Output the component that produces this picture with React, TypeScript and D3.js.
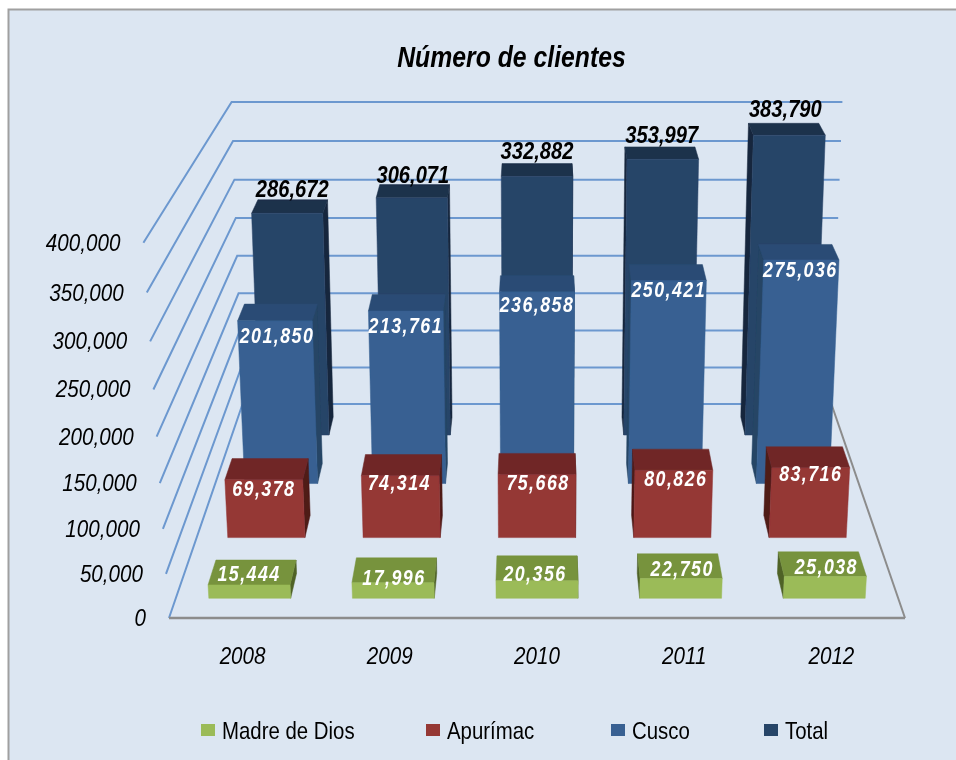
// Número de clientes: 3D clustered columns, drawn with a small perspective projection
import * as d3 from 'd3';
import React, { useEffect, useRef } from 'react';

const years = ['2008', '2009', '2010', '2011', '2012'];
const series = ['Madre de Dios', 'Apurímac', 'Cusco', 'Total'];
const madreDeDios = [15444, 17996, 20356, 22750, 25038];
const apurimac = [69378, 74314, 75668, 80826, 83716];
const cusco = [201850, 213761, 236858, 250421, 275036];
const total = [286672, 306071, 332882, 353997, 383790];
const valueTicks = [0, 50000, 100000, 150000, 200000, 250000, 300000, 350000, 400000];

const rows = [madreDeDios, apurimac, cusco, total];
const frontColor = ['#9bbb59', '#953735', '#376092', '#284468'];
const topColor = ['#77933c', '#702828', '#2b4c74', '#1d304b'];
const sideColor = ['#4f6228', '#4f1a19', '#254465', '#16263d'];
const labelColor = ['#fff', '#fff', '#fff', '#000'];
const labelDy = [-12, 8, 16, -24];
// hand nudges for the data labels, the original placed them a bit unevenly
const nudgeX = [[0, 1, -2, 1, 1], [0, -1, 1, 2, 0], [2, 0, 0, 0, -1], [5, 1, 0, -1, -4]];
const nudgeY = [[0, 7, 5, 2, 2], [0, -1, 0, 0, -2], [-2, -2, -4, -7, -7], [0, 1, -1, 0, -2]];

const FONT = '"Liberation Sans", Arial, sans-serif';

export default function App() {
  const ref = useRef<SVGSVGElement>(null);

  useEffect(() => {
    const root = d3.select(ref.current);
    root.selectAll('*').remove();

    // the source is a slightly soft bitmap
    root.append('defs').append('filter').attr('id', 'soft')
      .attr('x', 0).attr('y', 0).attr('width', 1).attr('height', 1)
      .append('feGaussianBlur').attr('stdDeviation', 0.45);
    const svg = root.append('g').attr('filter', 'url(#soft)');

    const yNorm = d3.scaleLinear().domain([0, 400000]).range([0, 1]);
    const xBand = d3.scaleBand().domain(years).range([0.003, 0.997]).paddingInner(0.43).paddingOuter(0.215);
    const zBand = d3.scaleBand().domain(series).range([0, 1]).paddingInner(0.6).paddingOuter(0.3);
    const xCenter = d3.scalePoint().domain(years).range([0.1, 0.9]);

    // x across, y up, z into the picture, all 0..1
    const project = (x: number, y: number, z: number): [number, number] => {
      const w = 1 + 0.25 * z - 0.065 * y + 0.02 * y * z;
      return [537 + ((x - 0.5) * 736) / w, (618 - 391 * y - 113 * z + 9 * y * z) / w];
    };
    const line = d3.line();

    svg.append('rect').attr('x', 0).attr('y', 0).attr('width', 956).attr('height', 760).attr('fill', '#fff');
    svg.append('rect').attr('x', 8.5).attr('y', 9.5).attr('width', 1000).attr('height', 800)
      .attr('fill', '#dce6f2').attr('stroke', '#a0a0a0').attr('stroke-width', 2);

    const label = (x: number, y: number, text: string, size: number, sx: number, anchor: string, weight: string, style: string, fill: string, spacing = 0) =>
      svg.append('text')
        .attr('transform', `translate(${x},${y}) scale(${sx},1)`)
        .attr('text-anchor', anchor).attr('dominant-baseline', 'central')
        .attr('font-family', FONT).attr('font-size', size)
        .attr('font-weight', weight).attr('font-style', style)
        .attr('letter-spacing', spacing)
        .attr('fill', fill).text(text);

    // title
    label(511.5, 57, 'Número de clientes', 29, 0.855, 'middle', 'bold', 'italic', '#000');

    // floor edge on the right
    svg.append('path').attr('d', line([project(1, 0, 0), project(1, 0, 1)]))
      .attr('stroke', '#8c8c8c').attr('stroke-width', 2).attr('fill', 'none');

    // wall grid
    valueTicks.forEach(t => {
      const y = yNorm(t);
      svg.append('path')
        .attr('d', line([project(0, y, 0), project(0, y, 1), project(1, y, 1)]))
        .attr('fill', 'none').attr('stroke', '#6c98cf').attr('stroke-width', 2);
      const [fx, fy] = project(0, y, 0);
      label(fx - 23, fy, d3.format(',')(t), 24, 0.86, 'end', 'normal', 'italic', '#000');
    });

    svg.append('path').attr('d', line([project(0, 0, 0), project(1, 0, 0)]))
      .attr('stroke', '#8c8c8c').attr('stroke-width', 2.5).attr('fill', 'none');

    // columns, back row first
    const quad = (pts: [number, number][], fill: string) =>
      svg.append('path').attr('d', line(pts) + 'Z').attr('fill', fill).attr('stroke', fill).attr('stroke-width', 0.5);

    const texts: (() => void)[] = [];
    d3.range(rows.length - 1, -1, -1).forEach(r => {
      const z0 = zBand(series[r]) as number;
      const z1 = z0 + zBand.bandwidth();
      years.forEach((yr, i) => {
        const x0 = xBand(yr) as number;
        const x1 = x0 + xBand.bandwidth();
        const y = yNorm(rows[r][i]);
        // side wall that faces the viewer
        const sx = project(x0, y, z0)[0] > 537 ? x0 : x1;
        quad([project(sx, 0, z0), project(sx, 0, z1), project(sx, y, z1), project(sx, y, z0)], sideColor[r]);
        quad([project(x0, y, z0), project(x1, y, z0), project(x1, y, z1), project(x0, y, z1)], topColor[r]);
        quad([project(x0, 0, z0), project(x1, 0, z0), project(x1, y, z0), project(x0, y, z0)], frontColor[r]);
        const [lx, ly] = project((x0 + x1) / 2, y, z0);
        const tx = lx + nudgeX[r][i];
        const ty = ly + labelDy[r] + nudgeY[r][i];
        const txt = d3.format(',')(rows[r][i]);
        texts.push(() => {
          if (r === 3) label(tx, ty, txt, 24, 0.84, 'middle', 'bold', 'italic', labelColor[r]);
          else label(tx, ty, txt, 22, 0.81, 'middle', 'bold', 'italic', labelColor[r], 1.8);
        });
      });
    });
    texts.forEach(f => f());

    // category labels
    years.forEach(yr => {
      const [cx] = project(xCenter(yr) as number, 0, 0);
      label(cx, 656, yr, 24, 0.86, 'middle', 'normal', 'italic', '#000');
    });

    // legend
    const legendX = [201, 426, 611, 764];
    series.forEach((s, i) => {
      svg.append('rect').attr('x', legendX[i]).attr('y', 724).attr('width', 14).attr('height', 12).attr('fill', frontColor[i]);
      label(legendX[i] + 21, 731, s, 24, 0.85, 'start', 'normal', 'normal', '#000');
    });
  }, []);

  return <svg ref={ref} width={956} height={760} style={{ position: 'fixed', left: 0, top: 0 }} />;
}
